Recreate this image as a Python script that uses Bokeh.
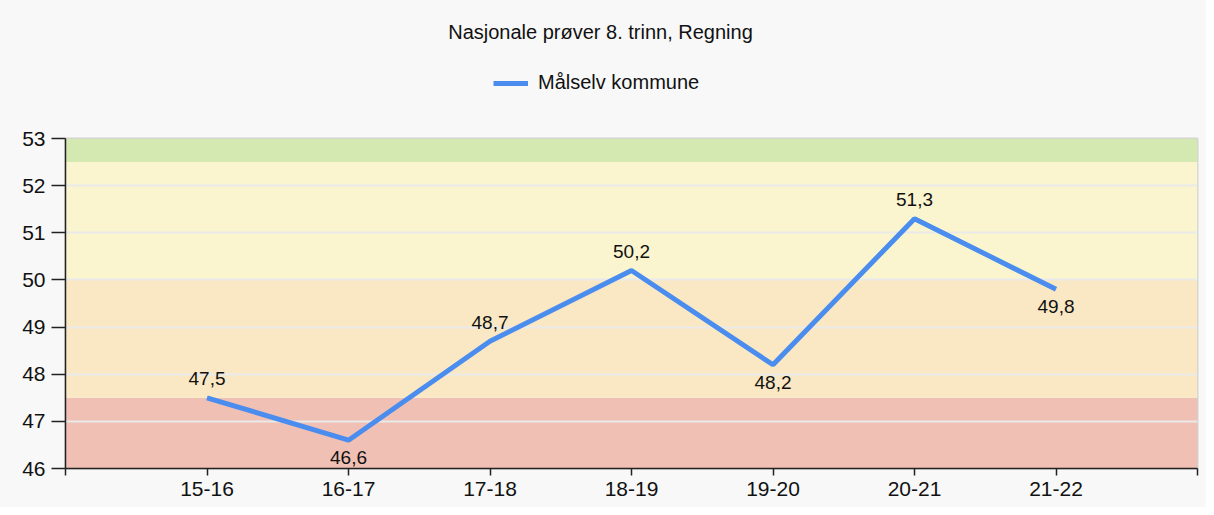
from bokeh.plotting import figure
from bokeh.models import (ColumnDataSource, FixedTicker, BoxAnnotation, Label,
                          Legend, LegendItem, Range1d)
from bokeh.layouts import column
from bokeh.core.properties import value
from bokeh.embed import file_html
from bokeh.resources import INLINE

# ---- data ----
title_text = "Nasjonale prøver 8. trinn, Regning"
series_name = "Målselv kommune"
categories = ["15-16", "16-17", "17-18", "18-19", "19-20", "20-21", "21-22"]
values = [47.5, 46.6, 48.7, 50.2, 48.2, 51.3, 49.8]
label_side = ["above", "below", "above", "above", "below", "above", "below"]
band_bottoms = [46.0, 47.5, 50.0, 52.5]
band_tops = [47.5, 50.0, 52.5, 53.0]
band_colors = ["#F0C0B5", "#FAE8C4", "#FAF5CE", "#D4E8B1"]
y_ticks = [46, 47, 48, 49, 50, 51, 52, 53]

FONT = "Liberation Sans"
LINE_COLOR = "#4A8DEE"
BG = "#F8F8F8"

xs = list(range(1, len(categories) + 1))
labels = [f"{v:.1f}".replace(".", ",") for v in values]

# ---------- header figure: title + legend ----------
head = figure(width=1206, height=126, output_backend="svg", toolbar_location=None,
              x_axis_type=None, y_axis_type=None, title=None,
              x_range=Range1d(0, 1), y_range=Range1d(0, 1),
              min_border_left=0, min_border_right=0, min_border_top=0, min_border_bottom=0)
head.border_fill_color = BG
head.background_fill_color = BG
head.outline_line_color = None
head.grid.grid_line_color = None
# legend key: a one-point line (draws nothing itself, only gives the legend its style)
key = head.line(x=xs[:1], y=values[:1], line_width=5, line_color=LINE_COLOR)
head.add_layout(Label(x=535, y=95, x_units="screen", y_units="screen", text=title_text,
                      text_align="center", text_baseline="alphabetic", text_font=FONT,
                      text_font_size="20px", text_color="#111111"))
legend = Legend(items=[LegendItem(label=series_name, renderers=[key])],
                location=(428, 32), orientation="horizontal", padding=0, margin=0,
                glyph_width=35, glyph_height=20, label_standoff=10, label_height=20,
                label_text_font=FONT, label_text_font_size="20px", label_text_color="#111111",
                background_fill_alpha=0, border_line_alpha=0)
head.add_layout(legend)

# ---------- main chart ----------
p = figure(width=1206, height=381, output_backend="svg", toolbar_location=None,
           x_range=Range1d(0, len(categories) + 1), y_range=Range1d(y_ticks[0], y_ticks[-1]),
           min_border_left=65, min_border_top=12, min_border_right=9, min_border_bottom=39)
p.border_fill_color = BG
p.background_fill_color = BG
p.outline_line_color = "#D2D2D2"
p.outline_line_width = 2

for b, t, c in zip(band_bottoms, band_tops, band_colors):
    p.add_layout(BoxAnnotation(bottom=b, top=t, fill_color=c, fill_alpha=1.0,
                               line_alpha=0, level="image"))

p.xgrid.grid_line_color = None
p.ygrid.grid_line_color = "#EAEAEA"
p.ygrid.grid_line_width = 2
p.ygrid.ticker = FixedTicker(ticks=y_ticks)

p.yaxis.ticker = FixedTicker(ticks=y_ticks)
p.yaxis.major_tick_out = 14
p.yaxis.major_tick_in = 0
p.yaxis.minor_tick_line_color = None
p.yaxis.major_label_standoff = 6
p.xaxis.ticker = FixedTicker(ticks=list(range(0, len(categories) + 2)))
overrides = {0: "", len(categories) + 1: ""}
for i, c in zip(xs, categories):
    overrides[i] = c
p.xaxis.major_label_overrides = overrides
p.xaxis.major_tick_out = 7
p.xaxis.major_tick_in = 0
p.xaxis.minor_tick_line_color = None
p.xaxis.major_label_standoff = 6
for ax in (p.xaxis, p.yaxis):
    ax.axis_line_color = "#222222"
    ax.axis_line_width = 1.5
    ax.major_tick_line_color = "#222222"
    ax.major_tick_line_width = 1.5
    ax.major_label_text_font = FONT
    ax.major_label_text_font_size = "21px"
    ax.major_label_text_color = "#111111"

src = ColumnDataSource(dict(x=xs, y=values))
p.line("x", "y", source=src, line_width=5, line_color=LINE_COLOR)

above = ColumnDataSource(dict(
    x=[x for x, s in zip(xs, label_side) if s == "above"],
    y=[v for v, s in zip(values, label_side) if s == "above"],
    t=[l for l, s in zip(labels, label_side) if s == "above"]))
below = ColumnDataSource(dict(
    x=[x for x, s in zip(xs, label_side) if s == "below"],
    y=[v for v, s in zip(values, label_side) if s == "below"],
    t=[l for l, s in zip(labels, label_side) if s == "below"]))
p.text("x", "y", text="t", source=above, text_align="center", text_baseline="alphabetic",
       y_offset=-19, text_font=value(FONT), text_font_size="19px", text_color="#111111")
p.text("x", "y", text="t", source=below, text_align="center", text_baseline="top",
       y_offset=11, text_font=value(FONT), text_font_size="19px", text_color="#111111")

layout = column(head, p, spacing=0, styles={"background-color": BG})
open("out.html", "w").write(file_html(layout, INLINE))
